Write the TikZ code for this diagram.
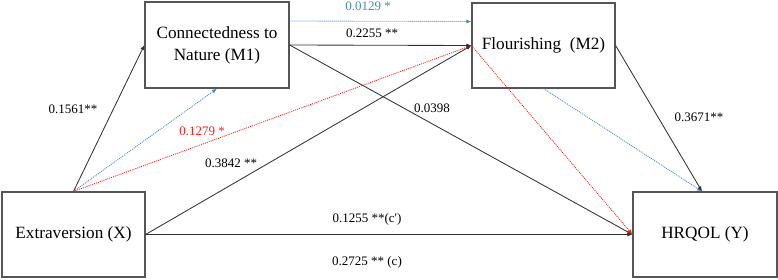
\documentclass[tikz,border=0pt]{standalone}
\usepackage{fontspec}
\setmainfont{Liberation Serif}
\usetikzlibrary{arrows.meta,calc}
\definecolor{lineblk}{HTML}{333333}
\definecolor{boxgray}{HTML}{555555}
\definecolor{pathblue}{HTML}{4A86C8}
\definecolor{pathred}{HTML}{FF2020}
\tikzset{
  varbox/.style={draw=boxgray, line width=1.2pt, minimum width=#1, minimum height=85pt,
    inner sep=0pt, align=center, font=\fontsize{17.2}{22}\selectfont},
  varbox/.default=143pt,
  conn/.style={draw=lineblk, line width=0.85pt, -{Latex[length=5pt,width=4pt]}},
  bluecon/.style={draw=pathblue, line width=0.85pt, dash pattern=on 1pt off 1pt, -{Latex[length=5pt,width=4pt]}},
  redcon/.style={draw=pathred, line width=0.85pt, dash pattern=on 1pt off 1pt, -{Latex[length=5pt,width=4pt]}},
  coef/.style={inner sep=0pt, font=\fontsize{13}{15}\selectfont},
}
\begin{document}
\begin{tikzpicture}[x=1pt,y=1pt]
\useasboundingbox (0,0) rectangle (778,279);
% boxes
\node[varbox=144pt, minimum height=86pt] (M1) at (217,234)
  {\raisebox{-3pt}{\begin{tabular}{@{}c@{}}Connectedness to\\Nature (M1)\end{tabular}}};
\node[varbox] (M2) at (543.5,233.5) {Flourishing~ (M2)};
\node[varbox] (X) at (73.5,44.5) {Extraversion (X)};
\node[varbox=144pt] (Y) at (705,44.5) {HRQOL (Y)};
% connectors
\draw[conn] (X.north) -- (M1.west);
\draw[bluecon] (X.north) -- (M1.south);
\draw[redcon] (X.north) -- (M2.west);
\draw[conn] (X.east) -- (M2.west);
\draw[conn] (X.east) -- (Y.west);
\draw[bluecon] ([yshift=24pt]M1.east) -- ([yshift=24pt]M2.west);
\draw[conn] (M1.east) -- (M2.west);
\draw[conn] (M1.east) -- (Y.west);
\draw[redcon] (M2.west) -- (Y.west);
\draw[bluecon] (M2.south) -- ([xshift=-3pt]Y.north);
\draw[conn] (M2.east) -- ([xshift=-3pt]Y.north);
% coefficients
\node[coef, text=pathblue] (l1) at (368,273) {0.0129 *};
\node[coef] (l2) at (372,246) {0.2255 **};
\node[coef] (l3) at (73,170) {0.1561**};
\node[coef, text=pathred] (l4) at (202,148) {0.1279 *};
\node[coef] (l5) at (432,171) {0.0398};
\node[coef] (l6) at (231,116) {0.3842 **};
\node[coef] (l7) at (699,162) {0.3671**};
\node[coef] (l8) at (367,60) {0.1255 **(c\textquotesingle)};
\node[coef] (l9) at (367,17) {0.2725 ** (c)};
\end{tikzpicture}
\end{document}
